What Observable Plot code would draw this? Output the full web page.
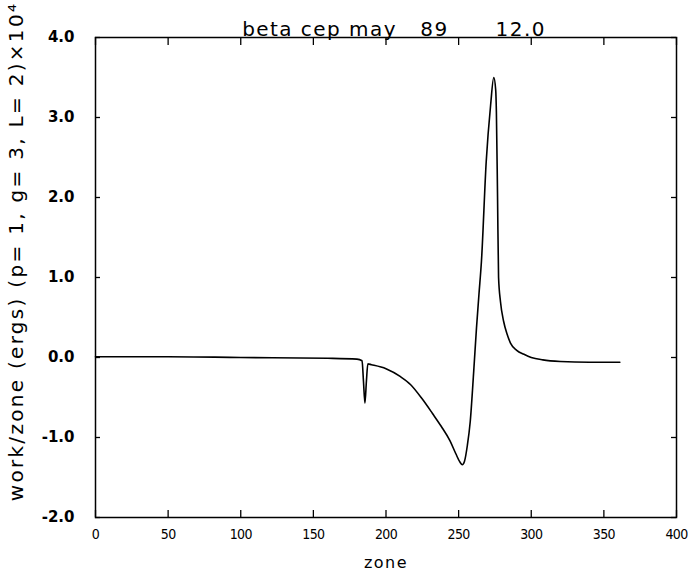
<!DOCTYPE html>
<html><head><meta charset="utf-8">
<script src="https://cdn.jsdelivr.net/npm/d3@7"></script>
<script src="https://cdn.jsdelivr.net/npm/@observablehq/plot@0.6"></script>
<style>
html,body{margin:0;padding:0;background:#fff;}
svg{white-space:pre;}
.ttl text{letter-spacing:1.45px;}
.ylab text{letter-spacing:2.3px;}
.zlab text{letter-spacing:1.5px;}
.xax text{letter-spacing:-0.6px;font-stretch:condensed;}
</style>
</head><body>
<div id="chart"></div>
<script>
const titleText = "beta cep may   89      12.0";
const xLabel = "zone";
const yLabel = "work/zone (ergs) (p= 1, g= 3, L= 2)×10⁴";
const xTicks = [0, 50, 100, 150, 200, 250, 300, 350, 400];
const yTicks = [-2, -1, 0, 1, 2, 3, 4];
const zone = [0, 50, 100, 160, 180, 183.5, 184.5, 185.5, 186.5, 187.5, 190, 200, 210, 217, 225, 232, 238, 244, 248, 251, 252.5, 254, 256, 258, 260.4, 262.3, 264, 265.7, 269, 272, 274.2, 275.5, 276, 276.8, 277.5, 278.8, 281, 283.4, 285.7, 290, 295, 300, 308, 320, 340, 361];
const work = [0.01, 0.01, 0.0, -0.01, -0.02, -0.04, -0.3, -0.57, -0.3, -0.08, -0.09, -0.14, -0.24, -0.34, -0.52, -0.7, -0.86, -1.04, -1.2, -1.31, -1.34, -1.3, -1.1, -0.8, -0.17, 0.37, 0.79, 1.2, 2.45, 3.15, 3.5, 3.35, 3.07, 2.0, 1.0, 0.7, 0.45, 0.29, 0.18, 0.09, 0.04, 0.0, -0.03, -0.05, -0.06, -0.06];

const data = zone.map((z, i) => ({zone: z, work: work[i]}));
const font = "'DejaVu Sans', sans-serif";
const W = 688, H = 574;
const mL = 95, mR = 12, mT = 37, mB = 57;
const fh = H - mT - mB, fw = W - mL - mR;

const chart = Plot.plot({
  width: W, height: H,
  marginLeft: mL, marginRight: mR, marginTop: mT, marginBottom: mB,
  style: {fontFamily: font, background: "#fff", color: "#000"},
  x: {domain: [0, 400], ticks: xTicks},
  y: {domain: [-2, 4], ticks: yTicks},
  marks: [
    Plot.frame({stroke: "#000", strokeWidth: 1.5}),
    Plot.axisX(xTicks, {anchor: "bottom", tickSize: 0, tickPadding: 12, fontSize: 14, label: null, className: "xax", tickFormat: d => String(d)}),
    Plot.axisY(yTicks, {anchor: "left", tickSize: 0, tickPadding: 21, fontSize: 15, fontWeight: "bold", label: null, tickFormat: d => d.toFixed(1)}),
    Plot.ruleX(xTicks, {x: d => d, insetTop: fh - 7, stroke: "#000", strokeWidth: 1.3}),
    Plot.ruleX(xTicks, {x: d => d, insetBottom: fh - 8, stroke: "#000", strokeWidth: 1.3}),
    Plot.ruleY(yTicks, {y: d => d, insetRight: fw - 5, stroke: "#000", strokeWidth: 1.3}),
    Plot.ruleY(yTicks, {y: d => d, insetLeft: fw - 5, stroke: "#000", strokeWidth: 1.3}),
    Plot.line(data, {x: "zone", y: "work", curve: "monotone-x", stroke: "#000", strokeWidth: 1.6}),
    Plot.text([titleText], {frameAnchor: "top", textAnchor: "middle", dy: -16, dx: 8, fontSize: 20, className: "ttl", text: d => d}),
    Plot.text([xLabel], {frameAnchor: "bottom", textAnchor: "middle", dy: 50, fontSize: 16, className: "zlab", text: d => d}),
    Plot.text([yLabel], {frameAnchor: "left", textAnchor: "middle", dx: -79, dy: -26, rotate: -90, fontSize: 20, className: "ylab", text: d => d})
  ]
});
document.getElementById("chart").appendChild(chart);
</script>
</body></html>
